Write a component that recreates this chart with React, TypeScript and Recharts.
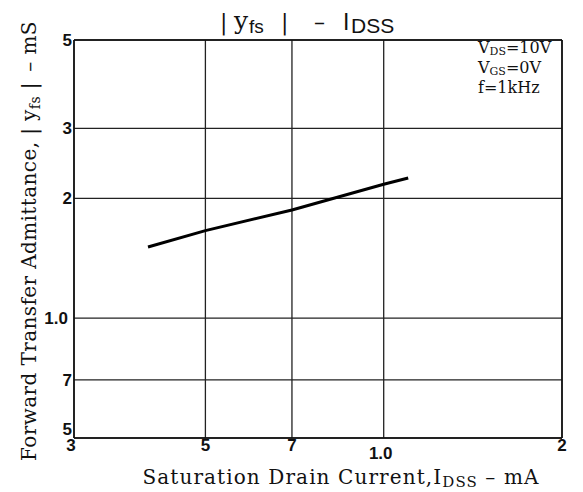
import React from 'react';
import { LineChart, Line, XAxis, YAxis, CartesianGrid, ReferenceLine } from 'recharts';

const xTicks = [0.3, 0.5, 0.7, 1, 2];
const xTickLabels = ['3', '5', '7', '1.0', '2'];
const yTicks = [0.5, 0.7, 1, 2, 3, 5];
const yTickLabels = ['5', '7', '1.0', '2', '3', '5'];
const idssValues = [0.4, 0.5, 0.7, 1.0, 1.1];
const yfsValues = [1.51, 1.66, 1.87, 2.17, 2.25];

const data = idssValues.map((x, i) => ({ x, y: yfsValues[i] }));

const SERIF = '"DejaVu Serif", serif';
const SANS = '"Liberation Sans", Arial, sans-serif';

const findIdx = (arr: number[], v: number) => arr.findIndex((t) => Math.abs(t - v) < 1e-9);

const XTick = (props: any) => {
  const { x, payload } = props;
  const i = findIdx(xTicks, payload.value);
  const label = i >= 0 ? xTickLabels[i] : String(payload.value);
  let dx = 0;
  let y = 451;
  if (i === 0) { dx = -3; y = 451; }
  if (label === '1.0') { dx = -3; y = 459; }
  return (
    <text x={x + dx} y={y} textAnchor="middle" fontFamily={SANS} fontWeight="bold" fontSize={17} fill="#111">
      {label}
    </text>
  );
};

const YTick = (props: any) => {
  const { y, payload } = props;
  const i = findIdx(yTicks, payload.value);
  const label = i >= 0 ? yTickLabels[i] : String(payload.value);
  const by = i === 0 ? y - 3 : y + 6;
  const bx = label === '1.0' ? 68 : 72;
  return (
    <text x={bx} y={by} textAnchor="end" fontFamily={SANS} fontWeight="bold" fontSize={17} fill="#111">
      {label}
    </text>
  );
};

export default function App() {
  return (
    <div style={{ position: 'absolute', left: 0, top: 0, width: 583, height: 492, background: '#fff' }}>
      <LineChart width={583} height={492} data={data} margin={{ top: 40, right: 21, bottom: 0, left: 0 }}>
        <CartesianGrid stroke="#222" strokeWidth={1.3} />
        <XAxis
          dataKey="x"
          type="number"
          scale="log"
          domain={[0.3, 2]}
          ticks={xTicks}
          interval={0}
          allowDataOverflow
          height={54}
          tickLine={false}
          axisLine={{ stroke: '#111', strokeWidth: 1.6 }}
          tick={<XTick />}
        />
        <YAxis
          dataKey="y"
          type="number"
          scale="log"
          domain={[0.5, 5]}
          ticks={yTicks}
          interval={0}
          allowDataOverflow
          width={74}
          tickLine={false}
          axisLine={{ stroke: '#111', strokeWidth: 1.6 }}
          tick={<YTick />}
        />
        <ReferenceLine x={2} stroke="#111" strokeWidth={1.6} />
        <ReferenceLine y={5} stroke="#111" strokeWidth={1.6} />
        <Line
          type="linear"
          dataKey="y"
          stroke="#000"
          strokeWidth={3}
          dot={false}
          isAnimationActive={false}
        />
      </LineChart>
      <svg width={583} height={492} style={{ position: 'absolute', left: 0, top: 0, pointerEvents: 'none' }}>
        <g fill="#111">
          <text x={220} y={30} fontFamily={SERIF} fontSize={22}>|</text>
          <text x={234} y={29} fontFamily={SERIF} fontSize={25}>y</text>
          <text x={249} y={33} fontFamily={SANS} fontSize={19}>fs</text>
          <text x={281} y={30} fontFamily={SERIF} fontSize={22}>|</text>
          <text x={314} y={30} fontFamily={SERIF} fontSize={22}>–</text>
          <text x={343} y={30} fontFamily={SANS} fontSize={23}>I</text>
          <text x={351} y={33} fontFamily={SANS} fontSize={21}>DSS</text>
        </g>
        <g fontFamily={SERIF} fontSize={16} fill="#111">
          <text x={478} y={53}>
            V<tspan fontSize={11} dy={2}>DS</tspan><tspan dy={-2}>=10V</tspan>
          </text>
          <text x={478} y={73}>
            V<tspan fontSize={11} dy={2}>GS</tspan><tspan dy={-2}>=0V</tspan>
          </text>
          <text x={478} y={93}>f=1kHz</text>
        </g>
        <text
          transform="translate(36,241) rotate(-90)"
          textAnchor="middle"
          fontFamily={SERIF}
          fontSize={20}
          letterSpacing={0.4}
          fill="#111"
        >
          Forward Transfer Admittance, | y<tspan fontSize={14} dy={4}>fs</tspan>
          <tspan dy={-4}> |{'\u2002'}– mS</tspan>
        </text>
        <text x={341} y={484} textAnchor="middle" fontFamily={SERIF} fontSize={20} letterSpacing={1.1} fill="#111">
          Saturation Drain Current,I<tspan fontSize={15} dy={3}>DSS</tspan>
          <tspan dy={-3}> – mA</tspan>
        </text>
      </svg>
    </div>
  );
}
